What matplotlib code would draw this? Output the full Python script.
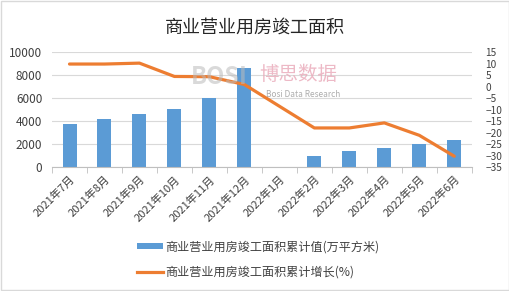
import numpy as np
import matplotlib
matplotlib.use("Agg")
import matplotlib.pyplot as plt
from matplotlib.patches import Rectangle
from matplotlib.lines import Line2D

plt.rcParams['font.family'] = ['Noto Sans CJK SC', 'DejaVu Sans']

categories = ["2021年7月", "2021年8月", "2021年9月", "2021年10月", "2021年11月", "2021年12月",
              "2022年1月", "2022年2月", "2022年3月", "2022年4月", "2022年5月", "2022年6月"]
area_values = [3750, 4170, 4610, 5040, 6030, 8630, np.nan, 960, 1370, 1640, 1990, 2360]
growth_values = [9.8, 9.8, 10.2, 4.4, 4.3, 0.9, np.nan, -18.0, -18.0, -15.8, -21.2, -30.3]
bar_label = "商业营业用房竣工面积累计值(万平方米)"
line_label = "商业营业用房竣工面积累计增长(%)"
title = "商业营业用房竣工面积"

bar_color = "#5B9BD5"
line_color = "#ED7D31"
text_color = "#404040"

fig = plt.figure(figsize=(5.10, 2.91), dpi=100)
fig.patches.append(Rectangle((0.002, 0.003), 0.996, 0.994, transform=fig.transFigure,
                             fill=False, edgecolor="#D9D9D9", linewidth=1))
ax = fig.add_axes([0.102, 0.426, 0.823, 0.395])
ax2 = ax.twinx()

x = np.arange(len(categories))
vals = np.array(area_values, dtype=float)
mask = ~np.isnan(vals)
ax.bar(x[mask], vals[mask], width=0.4, color=bar_color, zorder=2)
ax.set_ylim(0, 10000)
ax.set_yticks(np.arange(0, 10001, 2000))
ax.set_xlim(-0.5, len(categories) - 0.5)
ax.grid(axis='y', color="#D9D9D9", linewidth=0.8, zorder=0)
ax.set_axisbelow(True)

g = np.array(growth_values, dtype=float)
gm = ~np.isnan(g)
ax2.plot(x[gm], g[gm], color=line_color, linewidth=2.3, zorder=3, solid_capstyle='round')
ax2.set_ylim(-35, 15)
ax2.set_yticks(np.arange(-35, 16, 5))

for a in (ax, ax2):
    for s in ('top', 'left', 'right'):
        a.spines[s].set_visible(False)
    a.spines['bottom'].set_color("#BFBFBF")
ax.tick_params(axis='y', length=0, labelsize=8.5, labelcolor=text_color, pad=7)
ax2.tick_params(axis='y', length=0, labelsize=7.3, labelcolor=text_color, pad=10)
ax2.spines['bottom'].set_visible(False)

ax.set_xticks(x)
ax.set_xticklabels(categories, rotation=45, ha='right', rotation_mode='anchor',
                   fontsize=8, color=text_color)
ax.tick_params(axis='x', which='major', length=0, pad=5)
ax.set_xticks(np.arange(-0.5, len(categories), 1.0), minor=True)
ax.tick_params(axis='x', which='minor', length=4, color="#BFBFBF")

fig.text(0.5, 0.905, title, ha='center', va='center', fontsize=13, color="#262626")

# watermark
fig.text(0.43, 0.735, "BOSI", fontsize=17, fontweight='bold', color="#BBBBBB", alpha=0.55,
         ha='center', va='center', zorder=5)
fig.text(0.585, 0.745, "博思数据", fontsize=14, color="#E9A8B8", alpha=0.8,
         ha='center', va='center', zorder=5)
fig.text(0.595, 0.675, "Bosi Data Research", fontsize=6, color="#999999", alpha=0.8,
         ha='center', va='center', zorder=5)

handles = [Rectangle((0, 0), 1, 1, facecolor=bar_color, edgecolor='none'),
           Line2D([0], [0], color=line_color, linewidth=2.3)]
leg = fig.legend(handles, [bar_label, line_label], loc='upper left',
                 bbox_to_anchor=(0.268, 0.175), frameon=False, fontsize=8.7,
                 handlelength=2.2, handleheight=0.35, handletextpad=0.15,
                 labelspacing=1.0, borderpad=0, borderaxespad=0)
for t in leg.get_texts():
    t.set_color(text_color)

fig.savefig("out.png", dpi=100)
